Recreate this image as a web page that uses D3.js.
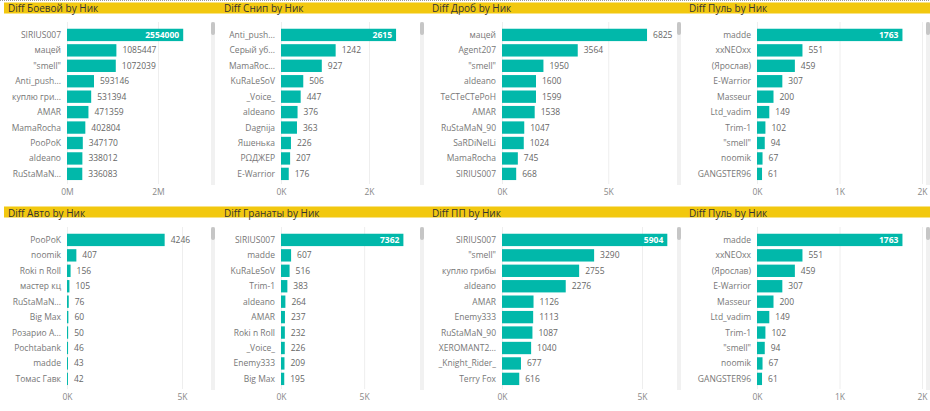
<!DOCTYPE html>
<html>
<head>
<meta charset="utf-8">
<script src="https://cdn.jsdelivr.net/npm/d3@7"></script>
<style>
  html, body { margin: 0; padding: 0; background: #fff; }
  svg { display: block; font-family: "Open Sans", "Segoe UI", sans-serif; }
</style>
</head>
<body>
<svg id="chart" width="930" height="411"></svg>
<script>
// ---------- DATA ----------
const namesBoevoy = ["SIRIUS007", "мацей", "\"smell\"", "Anti_push...", "куплю гри...", "AMAR", "MamaRocha", "PooPoK", "aldeano", "RuStaMaN..."];
const valuesBoevoy = [2554000, 1085447, 1072039, 593146, 531394, 471359, 402804, 347170, 338012, 336083];
const ticksBoevoy = [0, 2000000];
const tickLabelsBoevoy = ["0M", "2M"];

const namesSnip = ["Anti_push...", "Серый уб...", "MamaRoc...", "KuRaLeSoV", "_Voice_", "aldeano", "Dagnija", "Яшенька", "РΩДЖЕР", "E-Warrior"];
const valuesSnip = [2615, 1242, 927, 506, 447, 376, 363, 226, 207, 176];
const ticksSnip = [0, 2000];
const tickLabelsSnip = ["0K", "2K"];

const namesDrob = ["мацей", "Agent207", "\"smell\"", "aldeano", "TeCTeCTePoH", "AMAR", "RuStaMaN_90", "SaRDiNelLi", "MamaRocha", "SIRIUS007"];
const valuesDrob = [6825, 3564, 1950, 1600, 1599, 1538, 1047, 1024, 745, 668];
const ticksDrob = [0, 5000];
const tickLabelsDrob = ["0K", "5K"];

const namesPul = ["madde", "xxNEOxx", "(Ярослав)", "E-Warrior", "Masseur", "Ltd_vadim", "Trim-1", "\"smell\"", "noomik", "GANGSTER96"];
const valuesPul = [1763, 551, 459, 307, 200, 149, 102, 94, 67, 61];
const ticksPul = [0, 1000, 2000];
const tickLabelsPul = ["0K", "1K", "2K"];

const namesAvto = ["PooPoK", "noomik", "Roki n Roll", "мастер кц", "RuStaMaN...", "Big Max", "Розарио А...", "Pochtabank", "madde", "Томас Гавк"];
const valuesAvto = [4246, 407, 156, 105, 76, 60, 50, 46, 43, 42];
const ticksAvto = [0, 5000];
const tickLabelsAvto = ["0K", "5K"];

const namesGranaty = ["SIRIUS007", "madde", "KuRaLeSoV", "Trim-1", "aldeano", "AMAR", "Roki n Roll", "_Voice_", "Enemy333", "Big Max"];
const valuesGranaty = [7362, 607, 516, 383, 264, 237, 232, 226, 209, 195];
const ticksGranaty = [0, 5000];
const tickLabelsGranaty = ["0K", "5K"];

const namesPP = ["SIRIUS007", "\"smell\"", "куплю грибы", "aldeano", "AMAR", "Enemy333", "RuStaMaN_90", "XEROMANT2...", "_Knight_Rider_", "Terry Fox"];
const valuesPP = [5904, 3290, 2755, 2276, 1126, 1113, 1087, 1040, 677, 616];
const ticksPP = [0, 5000];
const tickLabelsPP = ["0K", "5K"];

const namesPul2 = ["madde", "xxNEOxx", "(Ярослав)", "E-Warrior", "Masseur", "Ltd_vadim", "Trim-1", "\"smell\"", "noomik", "GANGSTER96"];
const valuesPul2 = [1763, 551, 459, 307, 200, 149, 102, 94, 67, 61];
const ticksPul2 = [0, 1000, 2000];
const tickLabelsPul2 = ["0K", "1K", "2K"];

const titles = ["Diff Боевой by Ник", "Diff Снип by Ник", "Diff Дроб by Ник", "Diff Пуль by Ник",
                "Diff Авто by Ник", "Diff Гранаты by Ник", "Diff ПП by Ник", "Diff Пуль by Ник"];

// ---------- LAYOUT ----------
const panels = [
  { title: titles[0], names: namesBoevoy, values: valuesBoevoy, ticks: ticksBoevoy, tickLabels: tickLabelsBoevoy, max: 3000000, x0: 67, x1: 203.5, titleX: 8, scrollX: 211, row: 0 },
  { title: titles[1], names: namesSnip, values: valuesSnip, ticks: ticksSnip, tickLabels: tickLabelsSnip, max: 3000, x0: 281, x1: 413, titleX: 224, scrollX: 420, row: 0 },
  { title: titles[2], names: namesDrob, values: valuesDrob, ticks: ticksDrob, tickLabels: tickLabelsDrob, max: 8000, x0: 502, x1: 672, titleX: 432, scrollX: 677, row: 0 },
  { title: titles[3], names: namesPul, values: valuesPul, ticks: ticksPul, tickLabels: tickLabelsPul, max: 2000, x0: 757, x1: 922, titleX: 689, scrollX: 926, row: 0 },
  { title: titles[4], names: namesAvto, values: valuesAvto, ticks: ticksAvto, tickLabels: tickLabelsAvto, max: 6000, x0: 67, x1: 205, titleX: 8, scrollX: 211, row: 1 },
  { title: titles[5], names: namesGranaty, values: valuesGranaty, ticks: ticksGranaty, tickLabels: tickLabelsGranaty, max: 8000, x0: 281, x1: 414, titleX: 224, scrollX: 420, row: 1 },
  { title: titles[6], names: namesPP, values: valuesPP, ticks: ticksPP, tickLabels: tickLabelsPP, max: 6000, x0: 502, x1: 670, titleX: 432, scrollX: 677, row: 1 },
  { title: titles[7], names: namesPul2, values: valuesPul2, ticks: ticksPul2, tickLabels: tickLabelsPul2, max: 2000, x0: 757, x1: 922, titleX: 689, scrollX: 926, row: 1 }
];

const svg = d3.select("#chart");
const rowOffset = [0, 205];
const teal = "#01B8AA";

// top dotted border
svg.append("line").attr("x1", 0).attr("x2", 930).attr("y1", 0.5).attr("y2", 0.5)
  .attr("stroke", "#9a9a9a").attr("stroke-width", 1).attr("stroke-dasharray", "1,1");

// yellow title bands
[2.5, 206.5].forEach(y => {
  svg.append("rect").attr("x", 4).attr("y", y).attr("width", 926).attr("height", 11).attr("fill", "#F2C80F");
});

panels.forEach(p => {
  const oy = rowOffset[p.row];
  const g = svg.append("g").attr("transform", `translate(0,${oy})`);

  g.append("text").attr("x", p.titleX).attr("y", p.row === 0 ? 11.5 : 11.5)
    .attr("font-size", 10).attr("fill", "#333").text(p.title);

  const x = d3.scaleLinear().domain([0, p.max]).range([p.x0, p.x1]);
  const y = d3.scaleBand().domain(p.names).range([27.2, 181.6]).paddingInner(0.2).paddingOuter(0.1);

  // gridlines
  g.append("g").selectAll("line").data(p.ticks).join("line")
    .attr("x1", d => x(d) + 0.5).attr("x2", d => x(d) + 0.5)
    .attr("y1", 22).attr("y2", 184)
    .attr("stroke", "#eeeeee").attr("stroke-width", 1);

  // x axis tick labels
  const axis = d3.axisBottom(x).tickValues(p.ticks).tickSize(0).tickPadding(0)
    .tickFormat((d, i) => p.tickLabels[i]);
  const ag = g.append("g").attr("transform", "translate(0,189)").call(axis);
  ag.select(".domain").remove();
  ag.selectAll("text").attr("font-size", 8.5).attr("fill", "#888").attr("font-family", "\"Open Sans\", sans-serif");

  // category labels
  g.append("g").selectAll("text").data(p.names).join("text")
    .attr("x", p.x0 - 6).attr("y", d => y(d) + y.bandwidth() / 2)
    .attr("dy", "0.35em").attr("text-anchor", "end")
    .attr("font-size", 8.5).attr("fill", "#777").text(d => d);

  // bars
  g.append("g").selectAll("rect").data(p.values).join("rect")
    .attr("x", p.x0).attr("y", (d, i) => y(p.names[i]))
    .attr("width", d => x(d) - p.x0).attr("height", y.bandwidth())
    .attr("fill", teal);

  // data labels
  const labels = g.append("g").selectAll("text").data(p.values).join("text")
    .attr("y", (d, i) => y(p.names[i]) + y.bandwidth() / 2)
    .attr("dy", "0.35em").attr("font-size", 8.5).text(d => d);
  labels.each(function (d) {
    const t = d3.select(this);
    const w = this.getComputedTextLength();
    const end = x(d);
    if (end + 6 + w > p.x1 + 1) {
      t.attr("x", end - 4).attr("text-anchor", "end").attr("fill", "#fff").attr("font-weight", "bold");
    } else {
      t.attr("x", end + 6).attr("text-anchor", "start").attr("fill", "#666");
    }
  });

  // scrollbar
  g.append("rect").attr("x", p.scrollX).attr("y", 22).attr("width", 4).attr("height", 163)
    .attr("fill", "#f1f1f1");
  g.append("rect").attr("x", p.scrollX).attr("y", 22).attr("width", 4).attr("height", 13)
    .attr("rx", 2).attr("fill", "#c6c6c6");
});
</script>
</body>
</html>
